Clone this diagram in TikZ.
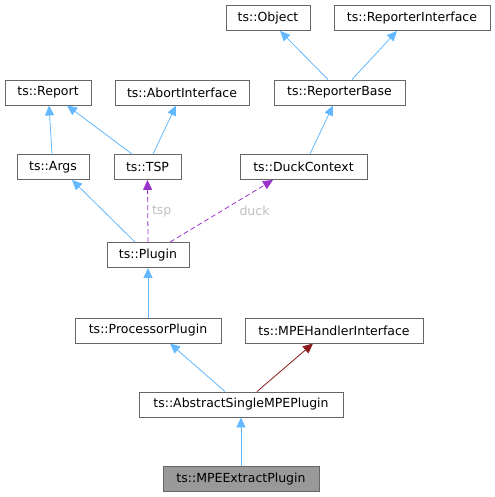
\documentclass[tikz,border=0pt]{standalone}
\usepackage{fontspec}
\setmainfont{DejaVu Sans}
\usetikzlibrary{arrows.meta}
\definecolor{edgeblue}{HTML}{63B8FF}
\definecolor{edgepurple}{HTML}{9A32CD}
\definecolor{edgered}{HTML}{8B1A1A}
\definecolor{boxgray}{HTML}{666666}
\begin{document}
\begin{tikzpicture}[x=1bp,y=-1bp,
    cls/.style={draw=boxgray, line width=0.9bp, fill=white, inner sep=0pt,
      minimum height=25bp, font=\fontsize{12.5bp}{14bp}\selectfont},
    inherit/.style={edgeblue, line width=0.8bp, -{Triangle[length=10bp,width=9bp]}},
    uses/.style={edgepurple, line width=0.8bp, dashed, dash pattern=on 5bp off 3bp,
      -{Triangle[length=10bp,width=9bp]}},
    elabel/.style={text=black!25, font=\fontsize{12.5bp}{14bp}\selectfont}]
  % Rahmen
  \useasboundingbox (0,0) rectangle (495,497);
  % Klassen
  \node[cls, minimum width=84bp] (object) at (268,18) {ts::Object};
  \node[cls, minimum width=156bp] (repiface) at (412,18) {ts::ReporterInterface};
  \node[cls, minimum width=86bp] (report) at (48,92.5) {ts::Report};
  \node[cls, minimum width=134bp] (abort) at (182,92.5) {ts::AbortInterface};
  \node[cls, minimum width=131bp] (repbase) at (339.5,92.5) {ts::ReporterBase};
  \node[cls, minimum width=72bp] (args) at (53,167) {ts::Args};
  \node[cls, minimum width=67bp] (tsp) at (147.5,167) {ts::TSP};
  \node[cls, minimum width=127bp] (duck) at (303.5,167) {ts::DuckContext};
  \node[cls, minimum width=82bp] (plugin) at (148,255) {ts::Plugin};
  \node[cls, minimum width=146bp] (procplugin) at (148,330.5) {ts::ProcessorPlugin};
  \node[cls, minimum width=178bp] (mpehandler) at (334,330.5) {ts::MPEHandlerInterface};
  \node[cls, minimum width=204bp] (abstract) at (241,404.5) {ts::AbstractSingleMPEPlugin};
  \node[cls, minimum width=156bp, fill=black!40] (extract) at (241,479) {ts::MPEExtractPlugin};
  % Vererbung
  \draw[inherit] ([xshift=-1bp]args.north) -- ([xshift=1bp]report.south);
  \draw[inherit] ([xshift=-15.5bp]tsp.north) -- ([xshift=19bp]report.south);
  \draw[inherit] ([xshift=5.5bp]tsp.north) -- ([xshift=-6bp]abort.south);
  \draw[inherit] ([xshift=-11.5bp]repbase.north) -- ([xshift=12bp]object.south);
  \draw[inherit] ([xshift=12.5bp]repbase.north) -- ([xshift=-15bp]repiface.south);
  \draw[inherit] ([xshift=6.5bp]duck.north) -- ([xshift=-6.5bp]repbase.south);
  \draw[inherit] ([xshift=-13bp]plugin.north) -- ([xshift=19bp]args.south);
  \draw[inherit] (procplugin.north) -- (plugin.south);
  \draw[inherit] ([xshift=-16bp]abstract.north) -- ([xshift=22bp]procplugin.south);
  \draw[inherit, edgered] ([xshift=16bp]abstract.north) -- ([xshift=-21bp]mpehandler.south);
  \draw[inherit] (extract.north) -- (abstract.south);
  % Member
  \draw[uses] (plugin.north) -- node[elabel, xshift=14bp] {tsp} (tsp.south);
  \draw[uses] ([xshift=22bp]plugin.north) -- node[elabel, xshift=33bp] {duck} ([xshift=-30.5bp]duck.south);
\end{tikzpicture}
\end{document}
